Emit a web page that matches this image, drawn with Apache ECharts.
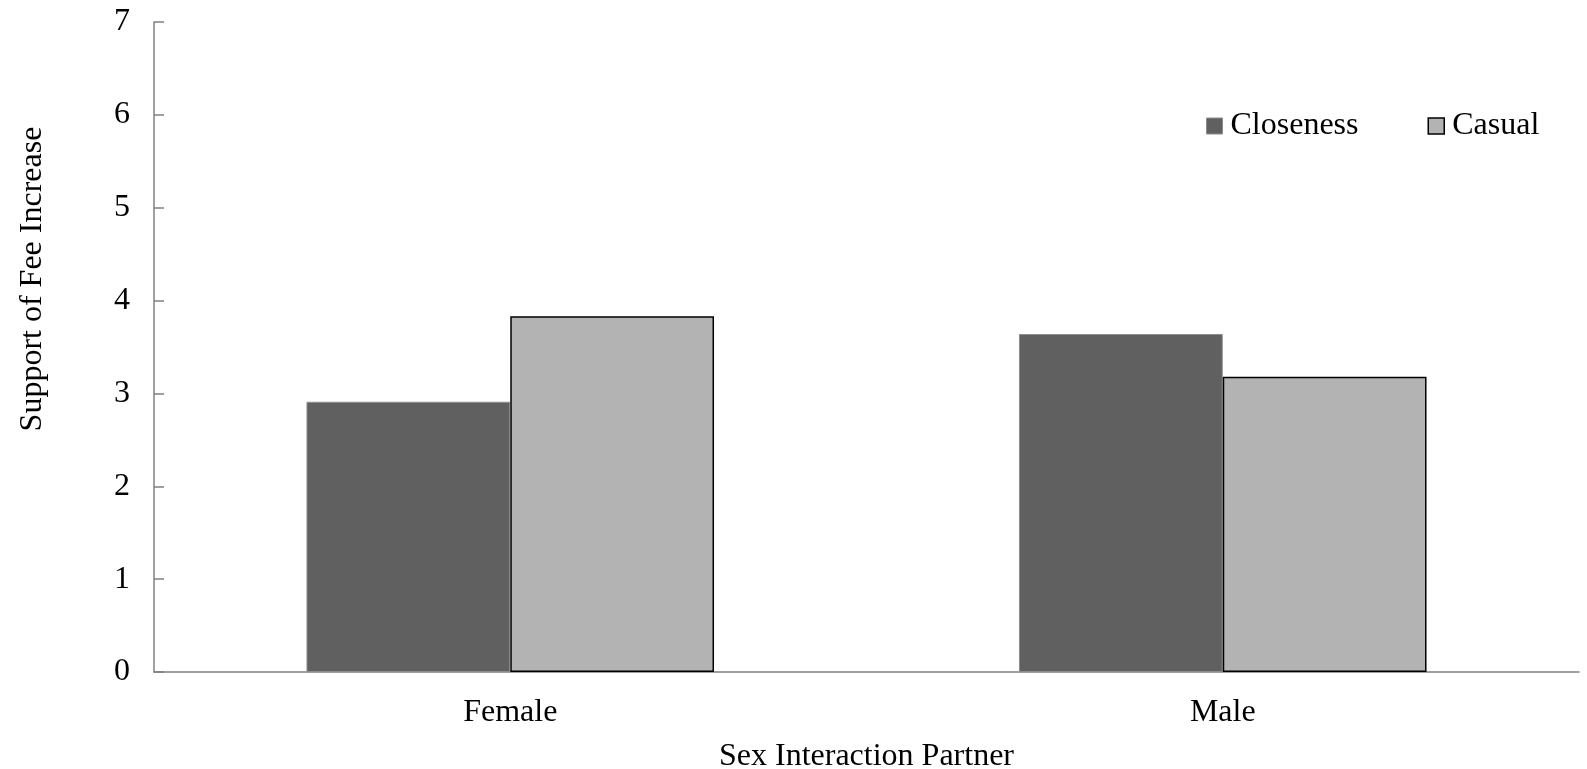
<!DOCTYPE html>
<html><head><meta charset="utf-8">
<script src="https://cdn.jsdelivr.net/npm/echarts@6/dist/echarts.min.js"></script>
<style>html,body{margin:0;padding:0;background:#fff}#c{width:1587px;height:769px}</style>
</head><body><div id="c"></div>
<script>
const categories = ["Female", "Male"];
const closeness = [2.91, 3.64];
const casual = [3.83, 3.18];
const yTicks = [0, 1, 2, 3, 4, 5, 6, 7];

const font = "'Liberation Serif', 'Times New Roman', serif";
const chart = echarts.init(document.getElementById('c'));
chart.setOption({
  animation: false,
  backgroundColor: '#fff',
  textStyle: { fontFamily: font, color: '#000' },
  legend: {
    left: 1201, top: 105,
    icon: 'rect',
    itemWidth: 16, itemHeight: 16, itemGap: 69,
    textStyle: { fontFamily: font, fontSize: 32, color: '#000', padding: [0, 0, 0, 3] },
    data: [
      { name: 'Closeness', itemStyle: { color: '#606060', borderColor: '#8c8c8c', borderWidth: 1 } },
      { name: 'Casual', itemStyle: { color: '#b3b3b3', borderColor: '#000', borderWidth: 1.5 } }
    ]
  },
  grid: { left: 154, right: 8, top: 22, bottom: 97, containLabel: false, outerBoundsMode: 'none' },
  xAxis: {
    type: 'category', data: categories,
    name: 'Sex Interaction Partner', nameLocation: 'middle', nameGap: 69,
    nameTextStyle: { fontFamily: font, fontSize: 32, color: '#000' },
    axisLine: { lineStyle: { color: '#808080', width: 1.5 } },
    axisTick: { show: false },
    axisLabel: { fontFamily: font, fontSize: 32, color: '#000', margin: 25 }
  },
  yAxis: {
    type: 'value', min: yTicks[0], max: yTicks[yTicks.length - 1], interval: 1,
    name: 'Support of Fee Increase', nameLocation: 'middle', nameGap: 105, nameRotate: 90,
    nameTextStyle: { fontFamily: font, fontSize: 32, color: '#000', padding: [0, 0, 0, 136] },
    axisLine: { show: true, lineStyle: { color: '#808080', width: 1.5 } },
    axisTick: { show: true, inside: true, length: 10, lineStyle: { color: '#808080', width: 1.5 } },
    axisLabel: { fontFamily: font, fontSize: 32, color: '#000', margin: 24 },
    splitLine: { show: false }
  },
  series: [
    { name: 'Closeness', type: 'bar', data: closeness, barWidth: '28.6%', barGap: '0%',
      itemStyle: { color: '#606060', borderColor: '#8c8c8c', borderWidth: 1 } },
    { name: 'Casual', type: 'bar', data: casual, barWidth: '28.6%', barGap: '0%',
      itemStyle: { color: '#b3b3b3', borderColor: '#000', borderWidth: 1.5 } }
  ]
});
</script></body></html>
